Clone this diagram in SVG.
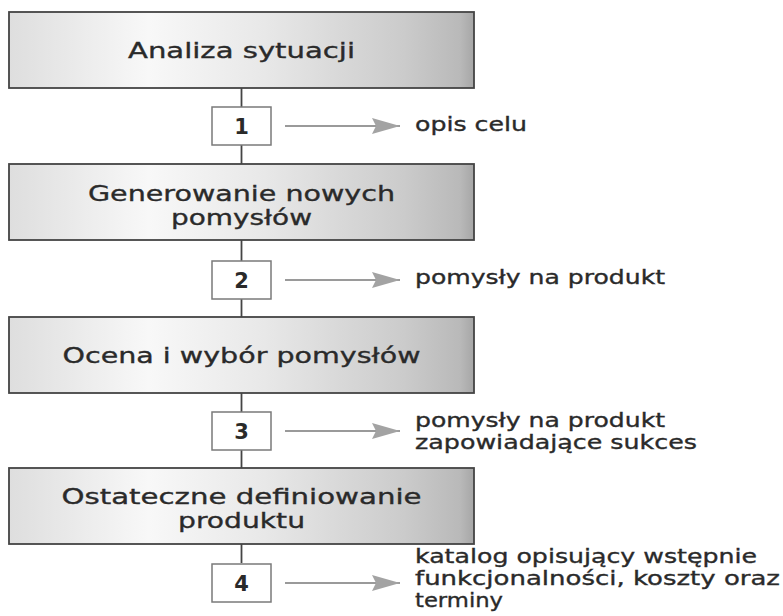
<svg xmlns="http://www.w3.org/2000/svg" width="783" height="616" viewBox="0 0 783 616">
  <defs>
    <linearGradient id="boxGrad" x1="0" y1="0" x2="1" y2="0">
      <stop offset="0" stop-color="#dedede"/>
      <stop offset="0.3" stop-color="#f8f8f8"/>
      <stop offset="0.55" stop-color="#e8e8e8"/>
      <stop offset="0.85" stop-color="#cbcbcb"/>
      <stop offset="0.97" stop-color="#b9b9b9"/>
      <stop offset="1" stop-color="#a6a6a6"/>
    </linearGradient>
    <marker id="arrowHead" viewBox="0 0 28 16" refX="28" refY="8" markerWidth="28" markerHeight="16" markerUnits="userSpaceOnUse" orient="auto">
      <path d="M0,0 L28,8 L0,16 L4,8 Z" fill="#a3a3a3"/>
    </marker>
  </defs>
  <style>
    .stage { fill: url(#boxGrad); stroke: #444; stroke-width: 1.8; }
    .num { fill: #ffffff; stroke: #7a7a7a; stroke-width: 1.5; }
    .title { font-family: "DejaVu Sans", Verdana, sans-serif; font-size: 22px; fill: #2a2a2a; stroke: #2a2a2a; stroke-width: 0.35; text-anchor: middle; }
    .numtxt { font-family: "DejaVu Sans", Verdana, sans-serif; font-size: 21px; font-weight: bold; fill: #2a2a2a; text-anchor: middle; }
    .label { font-family: "DejaVu Sans", Verdana, sans-serif; font-size: 20px; fill: #2a2a2a; stroke: #2a2a2a; stroke-width: 0.35; }
    .link { stroke: #444; stroke-width: 1.8; fill: none; }
    .out { stroke: #9a9a9a; stroke-width: 2.2; fill: none; marker-end: url(#arrowHead); }
  </style>

  <g id="connectors">
    <line class="link" x1="241.5" y1="88" x2="241.5" y2="164"/>
    <line class="link" x1="241.5" y1="240" x2="241.5" y2="317"/>
    <line class="link" x1="241.5" y1="393" x2="241.5" y2="468"/>
    <line class="link" x1="241.5" y1="544" x2="241.5" y2="563"/>
    <line class="out" x1="285" y1="126" x2="400" y2="126"/>
    <line class="out" x1="285" y1="280" x2="400" y2="280"/>
    <line class="out" x1="285" y1="431" x2="400" y2="431"/>
    <line class="out" x1="285" y1="583" x2="400" y2="583"/>
  </g>

  <g id="stage1">
    <rect class="stage" x="9" y="12" width="465" height="76"/>
    <text class="title" x="241.5" y="58" textLength="227" lengthAdjust="spacingAndGlyphs">Analiza sytuacji</text>
  </g>
  <g id="stage2">
    <rect class="stage" x="9" y="164" width="465" height="76"/>
    <text class="title" x="241.5" y="201" textLength="307" lengthAdjust="spacingAndGlyphs">Generowanie nowych</text>
    <text class="title" x="241.5" y="225" textLength="141" lengthAdjust="spacingAndGlyphs">pomysłów</text>
  </g>
  <g id="stage3">
    <rect class="stage" x="9" y="317" width="465" height="76"/>
    <text class="title" x="241.5" y="363" textLength="358" lengthAdjust="spacingAndGlyphs">Ocena i wybór pomysłów</text>
  </g>
  <g id="stage4">
    <rect class="stage" x="9" y="468" width="465" height="76"/>
    <text class="title" x="241.5" y="504" textLength="360" lengthAdjust="spacingAndGlyphs">Ostateczne definiowanie</text>
    <text class="title" x="241.5" y="528" textLength="127" lengthAdjust="spacingAndGlyphs">produktu</text>
  </g>

  <g id="step1">
    <rect class="num" x="212" y="107" width="59" height="38"/>
    <text class="numtxt" x="241.5" y="134">1</text>
  </g>
  <g id="step2">
    <rect class="num" x="212" y="261" width="59" height="38"/>
    <text class="numtxt" x="241.5" y="288">2</text>
  </g>
  <g id="step3">
    <rect class="num" x="212" y="412" width="59" height="38"/>
    <text class="numtxt" x="241.5" y="439">3</text>
  </g>
  <g id="step4">
    <rect class="num" x="212" y="564" width="59" height="38"/>
    <text class="numtxt" x="241.5" y="591">4</text>
  </g>

  <g id="output1">
    <text class="label" x="415" y="131" textLength="112" lengthAdjust="spacingAndGlyphs">opis celu</text>
  </g>
  <g id="output2">
    <text class="label" x="415" y="284" textLength="250" lengthAdjust="spacingAndGlyphs">pomysły na produkt</text>
  </g>
  <g id="output3">
    <text class="label" x="415" y="427" textLength="250" lengthAdjust="spacingAndGlyphs">pomysły na produkt</text>
    <text class="label" x="415" y="449" textLength="282" lengthAdjust="spacingAndGlyphs">zapowiadające sukces</text>
  </g>
  <g id="output4">
    <text class="label" x="415" y="563" textLength="342" lengthAdjust="spacingAndGlyphs">katalog opisujący wstępnie</text>
    <text class="label" x="415" y="585" textLength="365" lengthAdjust="spacingAndGlyphs">funkcjonalności, koszty oraz</text>
    <text class="label" x="415" y="607" textLength="88" lengthAdjust="spacingAndGlyphs">terminy</text>
  </g>
</svg>
